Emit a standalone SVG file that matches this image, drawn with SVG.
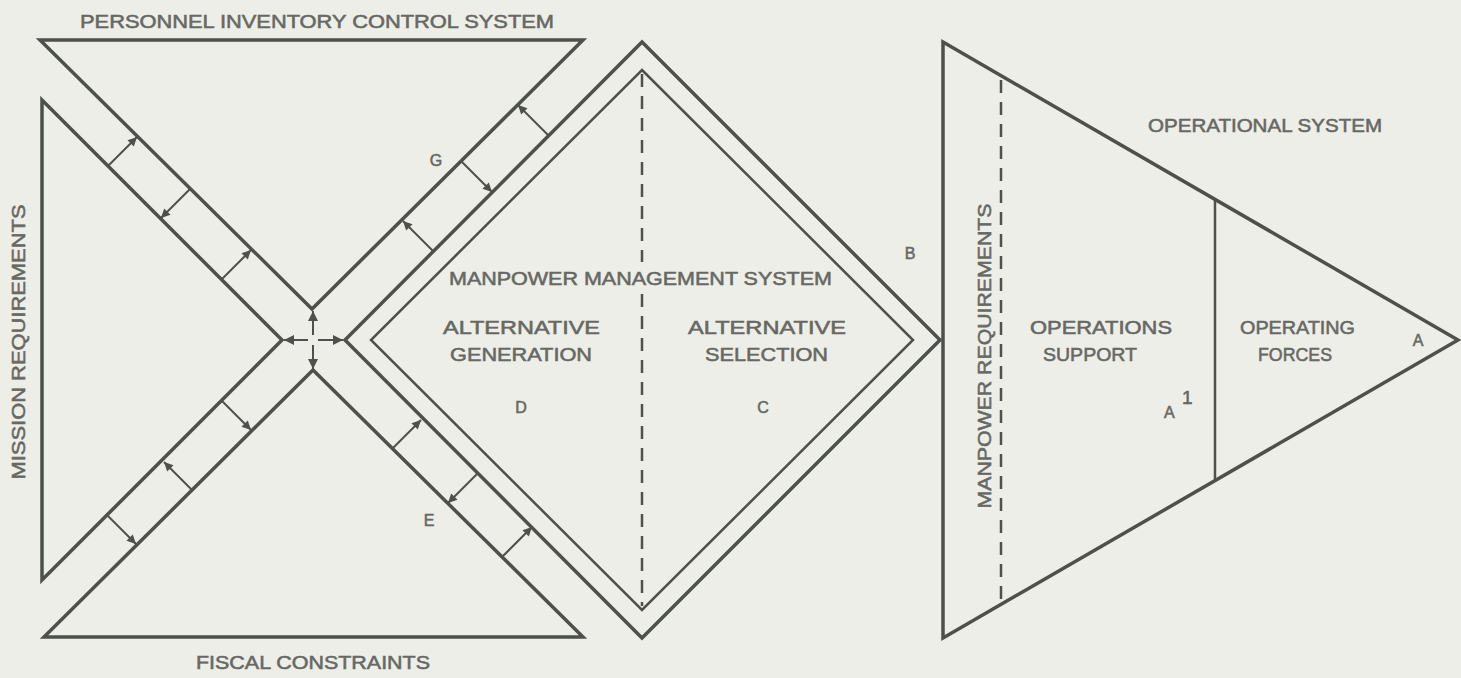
<svg xmlns="http://www.w3.org/2000/svg" width="1461" height="678" viewBox="0 0 1461 678">
<defs>
<marker id="ah" viewBox="0 0 10 10" refX="10" refY="5" markerWidth="11" markerHeight="9" markerUnits="userSpaceOnUse" orient="auto"><path d="M0,0 L10,5 L0,10 z" fill="#4e504b"/></marker>
<marker id="ahc" viewBox="0 0 10 10" refX="10" refY="5" markerWidth="12" markerHeight="10" markerUnits="userSpaceOnUse" orient="auto"><path d="M0,0 L10,5 L0,10 z" fill="#4e504b"/></marker>
</defs>
<style>
.thick{fill:none;stroke:#4e504b;stroke-width:3.5;stroke-linejoin:miter}
.thin{fill:none;stroke:#4e504b;stroke-width:2.5}
.dash{fill:none;stroke:#4e504b;stroke-width:2.5;stroke-dasharray:13 9}
.arr{stroke:#4e504b;stroke-width:2;marker-end:url(#ah)}
.arc{stroke:#4e504b;stroke-width:2;marker-end:url(#ahc)}
text{font-family:"Liberation Sans",Arial,sans-serif;fill:#676864;stroke:#676864;stroke-width:0.55;font-size:19px}
.lt{font-size:16px}
</style>
<rect width="1461" height="678" fill="#edeee7"/>

<g id="personnel-inventory">
<polygon class="thick" points="40,40 583,40 312,309"/>
<text x="80" y="28" textLength="474" lengthAdjust="spacingAndGlyphs">PERSONNEL INVENTORY CONTROL SYSTEM</text>
</g>

<g id="mission-requirements">
<polygon class="thick" points="42,100 282,340 42,580"/>
<text transform="translate(25,342) rotate(-90)" text-anchor="middle" textLength="275" lengthAdjust="spacingAndGlyphs">MISSION REQUIREMENTS</text>
</g>

<g id="fiscal-constraints">
<polygon class="thick" points="44,637 583,637 313,370"/>
<text x="196" y="669" textLength="234" lengthAdjust="spacingAndGlyphs">FISCAL CONSTRAINTS</text>
</g>

<g id="manpower-management">
<polygon class="thick" points="642,42 940,340 642,638 345,340"/>
<polygon class="thin" points="642,70 913,340 642,610 371,340"/>
<line class="dash" x1="642" y1="74" x2="642" y2="262"/>
<line class="dash" x1="642" y1="294" x2="642" y2="606"/>
<text x="449" y="285" textLength="383" lengthAdjust="spacingAndGlyphs">MANPOWER MANAGEMENT SYSTEM</text>
<text x="443" y="334" textLength="157" lengthAdjust="spacingAndGlyphs">ALTERNATIVE</text>
<text x="450" y="361" textLength="142" lengthAdjust="spacingAndGlyphs">GENERATION</text>
<text x="688" y="334" textLength="158" lengthAdjust="spacingAndGlyphs">ALTERNATIVE</text>
<text x="705" y="361" textLength="123" lengthAdjust="spacingAndGlyphs">SELECTION</text>
<text class="lt" x="521" y="413" text-anchor="middle">D</text>
<text class="lt" x="763" y="413" text-anchor="middle">C</text>
</g>

<g id="operational-system">
<polygon class="thick" points="943,42 1458,340 943,638"/>
<line class="thin" x1="1215" y1="199" x2="1215" y2="481"/>
<line class="dash" x1="1001" y1="80" x2="1001" y2="600"/>
<text x="1148" y="132" textLength="234" lengthAdjust="spacingAndGlyphs">OPERATIONAL SYSTEM</text>
<text transform="translate(991,356) rotate(-90)" text-anchor="middle" textLength="305" lengthAdjust="spacingAndGlyphs">MANPOWER REQUIREMENTS</text>
<text x="1030" y="334" textLength="142" lengthAdjust="spacingAndGlyphs">OPERATIONS</text>
<text x="1043" y="361" textLength="94" lengthAdjust="spacingAndGlyphs">SUPPORT</text>
<text x="1240" y="334" textLength="115" lengthAdjust="spacingAndGlyphs">OPERATING</text>
<text x="1258" y="361" textLength="74" lengthAdjust="spacingAndGlyphs">FORCES</text>
<text class="lt" x="1164" y="418">A</text>
<text x="1182" y="404" font-size="13px">1</text>
<text class="lt" x="1418" y="346" text-anchor="middle">A</text>
</g>

<g id="labels">
<text class="lt" x="910" y="259" text-anchor="middle">B</text>
<text class="lt" x="436" y="166" text-anchor="middle">G</text>
<text class="lt" x="429" y="526" text-anchor="middle">E</text>
</g>

<g id="connectors">
<line class="arr" x1="108" y1="166" x2="137" y2="137"/>
<line class="arr" x1="190" y1="189" x2="161" y2="218"/>
<line class="arr" x1="222" y1="279" x2="251" y2="250"/>

<line class="arr" x1="549" y1="136" x2="518" y2="105"/>
<line class="arr" x1="461" y1="161" x2="492" y2="192"/>
<line class="arr" x1="434" y1="252" x2="403" y2="221"/>

<line class="arr" x1="221" y1="400" x2="251" y2="430"/>
<line class="arr" x1="193" y1="491" x2="164" y2="462"/>
<line class="arr" x1="106" y1="514" x2="136" y2="544"/>

<line class="arr" x1="392" y1="449" x2="421" y2="420"/>
<line class="arr" x1="477" y1="474" x2="448" y2="503"/>
<line class="arr" x1="503" y1="556" x2="532" y2="527"/>

<line class="arc" x1="313" y1="335" x2="313" y2="311"/>
<line class="arc" x1="313" y1="345" x2="313" y2="369"/>
<line class="arc" x1="308" y1="340" x2="284" y2="340"/>
<line class="arc" x1="318" y1="340" x2="343" y2="340"/>
</g>
</svg>
